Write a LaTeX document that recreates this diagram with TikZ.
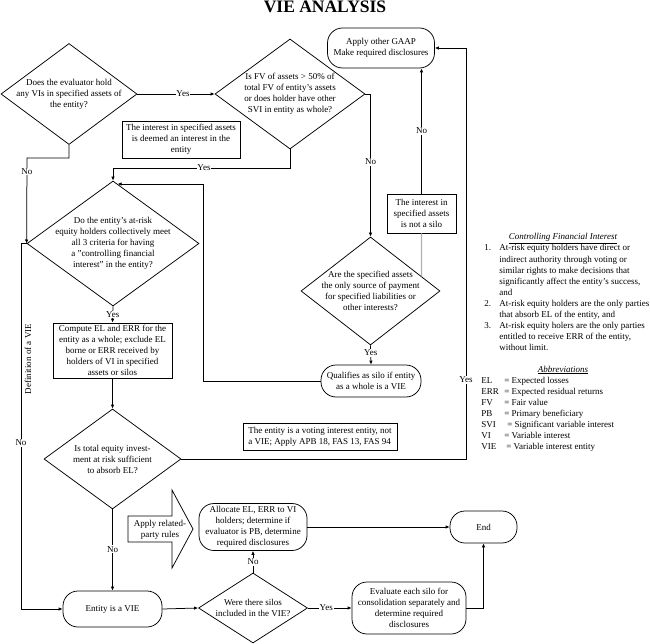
\documentclass[tikz,border=0pt]{standalone}
\usepackage{fontspec}
\setmainfont{Liberation Serif}
\usetikzlibrary{shapes.geometric,arrows.meta,calc}
\begin{document}
\begin{tikzpicture}[x=1pt,y=-1pt,
  font=\fontsize{9}{11}\selectfont,
  line width=0.75pt,
  every node/.style={inner sep=0pt},
  dia/.style={draw, diamond, inner sep=0pt},
  txt/.style={align=center},
  box/.style={draw, align=center},
  term/.style={draw, rounded corners=15pt, align=center},
  arr/.style={-{Latex[length=4pt,width=3.5pt]}},
  lab/.style={fill=white, inner sep=0.8pt},
  ln/.style={anchor=base west},
]
\useasboundingbox (0,0) rectangle (650,644);

% title
\node[font=\bfseries\fontsize{17.5}{20}\selectfont, anchor=base] (title) at (325,13) {VIE ANALYSIS};

% nodes
\node[term, minimum width=107pt, minimum height=40pt] (gaap) at (381,48) {Apply other GAAP\\Make required disclosures};

\node[dia, minimum width=136pt, minimum height=101pt] (d1) at (69,94) {};
\node[txt] (d1t) at (d1) {Does the evaluator hold\\any VIs in specified assets of\\the entity?};

\node[dia, minimum width=150pt, minimum height=110pt] (d2) at (290,94) {};
\node[txt] (d2t) at (d2) {Is FV of assets > 50\% of\\total FV of entity's assets\\or does holder have other\\SVI in entity as whole?};

\node[box, minimum width=118pt, minimum height=37pt] (deem) at (181,139.5) {The interest in specified assets\\is deemed an interest in the\\entity};

\node[box, minimum width=69pt, minimum height=39pt] (nosilo) at (421.5,213.5) {The interest in\\specified assets\\is not a silo};

\node[dia, minimum width=172pt, minimum height=125pt] (d3) at (113,243.5) {};
\node[txt] (d3t) at (d3) {Do the entity's at-risk\\equity holders collectively meet\\all 3 criteria for having\\a "controlling financial\\interest" in the entity?};

\node[box, minimum width=119pt, minimum height=55pt] (comp) at (112.5,350.5) {Compute EL and ERR for the\\entity as a whole; exclude EL\\borne or ERR received by\\holders of VI in specified\\assets or silos};

\node[dia, minimum width=139pt, minimum height=108pt] (d5) at (370.5,291) {};
\node[txt] (d5t) at (d5) {Are the specified assets\\the only source of payment\\for specified liabilities or\\other interests?};

\node[term, minimum width=100pt, minimum height=32pt] (qual) at (371,381) {Qualifies as silo if entity\\as a whole is a VIE};

\node[dia, minimum width=137pt, minimum height=100pt] (d4) at (112.5,459) {};
\node[txt] (d4t) at (d4) {Is total equity invest-\\ment at risk sufficient\\to absorb EL?};

\node[draw, align=left, minimum width=154pt, minimum height=27pt] (vote) at (320,436.5) {The entity is a voting interest entity, not\\a VIE; Apply APB 18, FAS 13, FAS 94};

% related-party arrow shape
\draw (128,516) -- (172,516) -- (172,490) -- (193,529) -- (172,568) -- (172,542) -- (128,542) -- cycle;
\node[txt] (rel) at (160,529.5) {Apply related-\\party rules};

\node[term, minimum width=108pt, minimum height=47pt] (alloc) at (253,527) {Allocate EL, ERR to VI\\holders; determine if\\evaluator is PB, determine\\required disclosures};

\node[term, minimum width=67pt, minimum height=32pt] (end) at (483.5,527) {End};

\node[term, minimum width=99pt, minimum height=36pt] (ent) at (112.5,609) {Entity is a VIE};

\node[dia, minimum width=109pt, minimum height=70pt] (d6) at (253,608) {};
\node[txt] (d6t) at (d6) {Were there silos\\included in the VIE?};

\node[term, minimum width=114pt, minimum height=52pt] (eval) at (409,608) {Evaluate each silo for\\consolidation separately and\\determine required\\disclosures};

% bend coordinates
\coordinate (b1) at (113,168);
\coordinate (b2) at (27,158);
\coordinate (b3) at (203,184);
\coordinate (b4) at (113,184);
\coordinate (b5) at (21,243.5);
\coordinate (b6) at (466,459);

% connectors
\draw[arr] (d1.east) -- node[lab, pos=0.59]{Yes} (d2.west);
\draw[arr] (d2.south) |- node[lab, pos=0.743]{Yes} (b1) -- (d3.north);
\draw[arr] (d1.south) |- (b2) -- node[lab, pos=0.16]{No} (d3.west);
\draw[arr] (d2.east) -| node[lab, pos=0.738]{No} (d5.north);
\draw[draw=gray!60, line width=1.1pt] (intersection of nosilo.south--nosilo.north and d5.north--d5.east) -- (nosilo.south);
\draw[arr] (nosilo.north) -- node[lab, pos=0.5]{No} (nosilo.north |- gaap.south);
\draw[arr] (d5.south) -- node[lab, pos=0.4]{Yes} (qual.north);
\draw[arr] (qual.west) -| (b3) -- (intersection of b3--b4 and d3.north--d3.east);
\draw[arr] (d3.south) -- node[lab]{Yes} (comp.north);
\draw[arr] (comp.south) -- (d4.north);
\draw[arr] (d3.west) -- (b5) |- node[lab, pos=0.273]{No} (ent.west);
\draw[arr] (d4.east) -- (b6) |- node[lab, pos=0.096]{Yes} (gaap.east);
\draw[arr] (d4.south) -- node[lab, pos=0.49]{No} (ent.north);
\draw[arr] (ent.east) -- (d6.west);
\draw[arr] (d6.north) -- node[lab]{No} (alloc.south);
\draw[arr] (d6.east) -- node[lab, pos=0.42]{Yes} (eval.west);
\draw[arr] (alloc.east) -- (end.west);
\draw[arr] (eval.east) -| (end.south);

\node[rotate=90] (defv) at (28,359) {Definition of a VIE};

% legend
\node[anchor=base] (cfi) at (563,240) {\underline{\textit{Controlling Financial Interest}}};
\node[ln] (n1) at (484,251) {1.};
\node[ln] (l1) at (499,251) {At-risk equity holders have direct or};
\node[ln] (l2) at (499,262) {indirect authority through voting or};
\node[ln] (l3) at (499,273) {similar rights to make decisions that};
\node[ln] (l4) at (499,284) {significantly affect the entity's success,};
\node[ln] (l5) at (499,295) {and};
\node[ln] (n2) at (484,306) {2.};
\node[ln] (l6) at (499,306) {At-risk equity holders are the only parties};
\node[ln] (l7) at (499,317) {that absorb EL of the entity, and};
\node[ln] (n3) at (484,328) {3.};
\node[ln] (l8) at (499,328) {At-risk equity holers are the only parties};
\node[ln] (l9) at (499,339) {entitled to receive ERR of the entity,};
\node[ln] (l10) at (499,350) {without limit.};

\node[anchor=base] (abh) at (563,372) {\underline{\textit{Abbreviations}}};
\node[ln] (a1) at (481,383) {\makebox[23pt][l]{EL}= Expected losses};
\node[ln] (a2) at (481,394) {\makebox[23pt][l]{ERR}= Expected residual returns};
\node[ln] (a3) at (481,405) {\makebox[23pt][l]{FV}= Fair value};
\node[ln] (a4) at (481,416) {\makebox[23pt][l]{PB}= Primary beneficiary};
\node[ln] (a5) at (481,427) {\makebox[26pt][l]{SVI}= Significant variable interest};
\node[ln] (a6) at (481,438) {\makebox[23pt][l]{VI}= Variable interest};
\node[ln] (a7) at (481,449) {\makebox[25pt][l]{VIE}= Variable interest entity};
\end{tikzpicture}
\end{document}
